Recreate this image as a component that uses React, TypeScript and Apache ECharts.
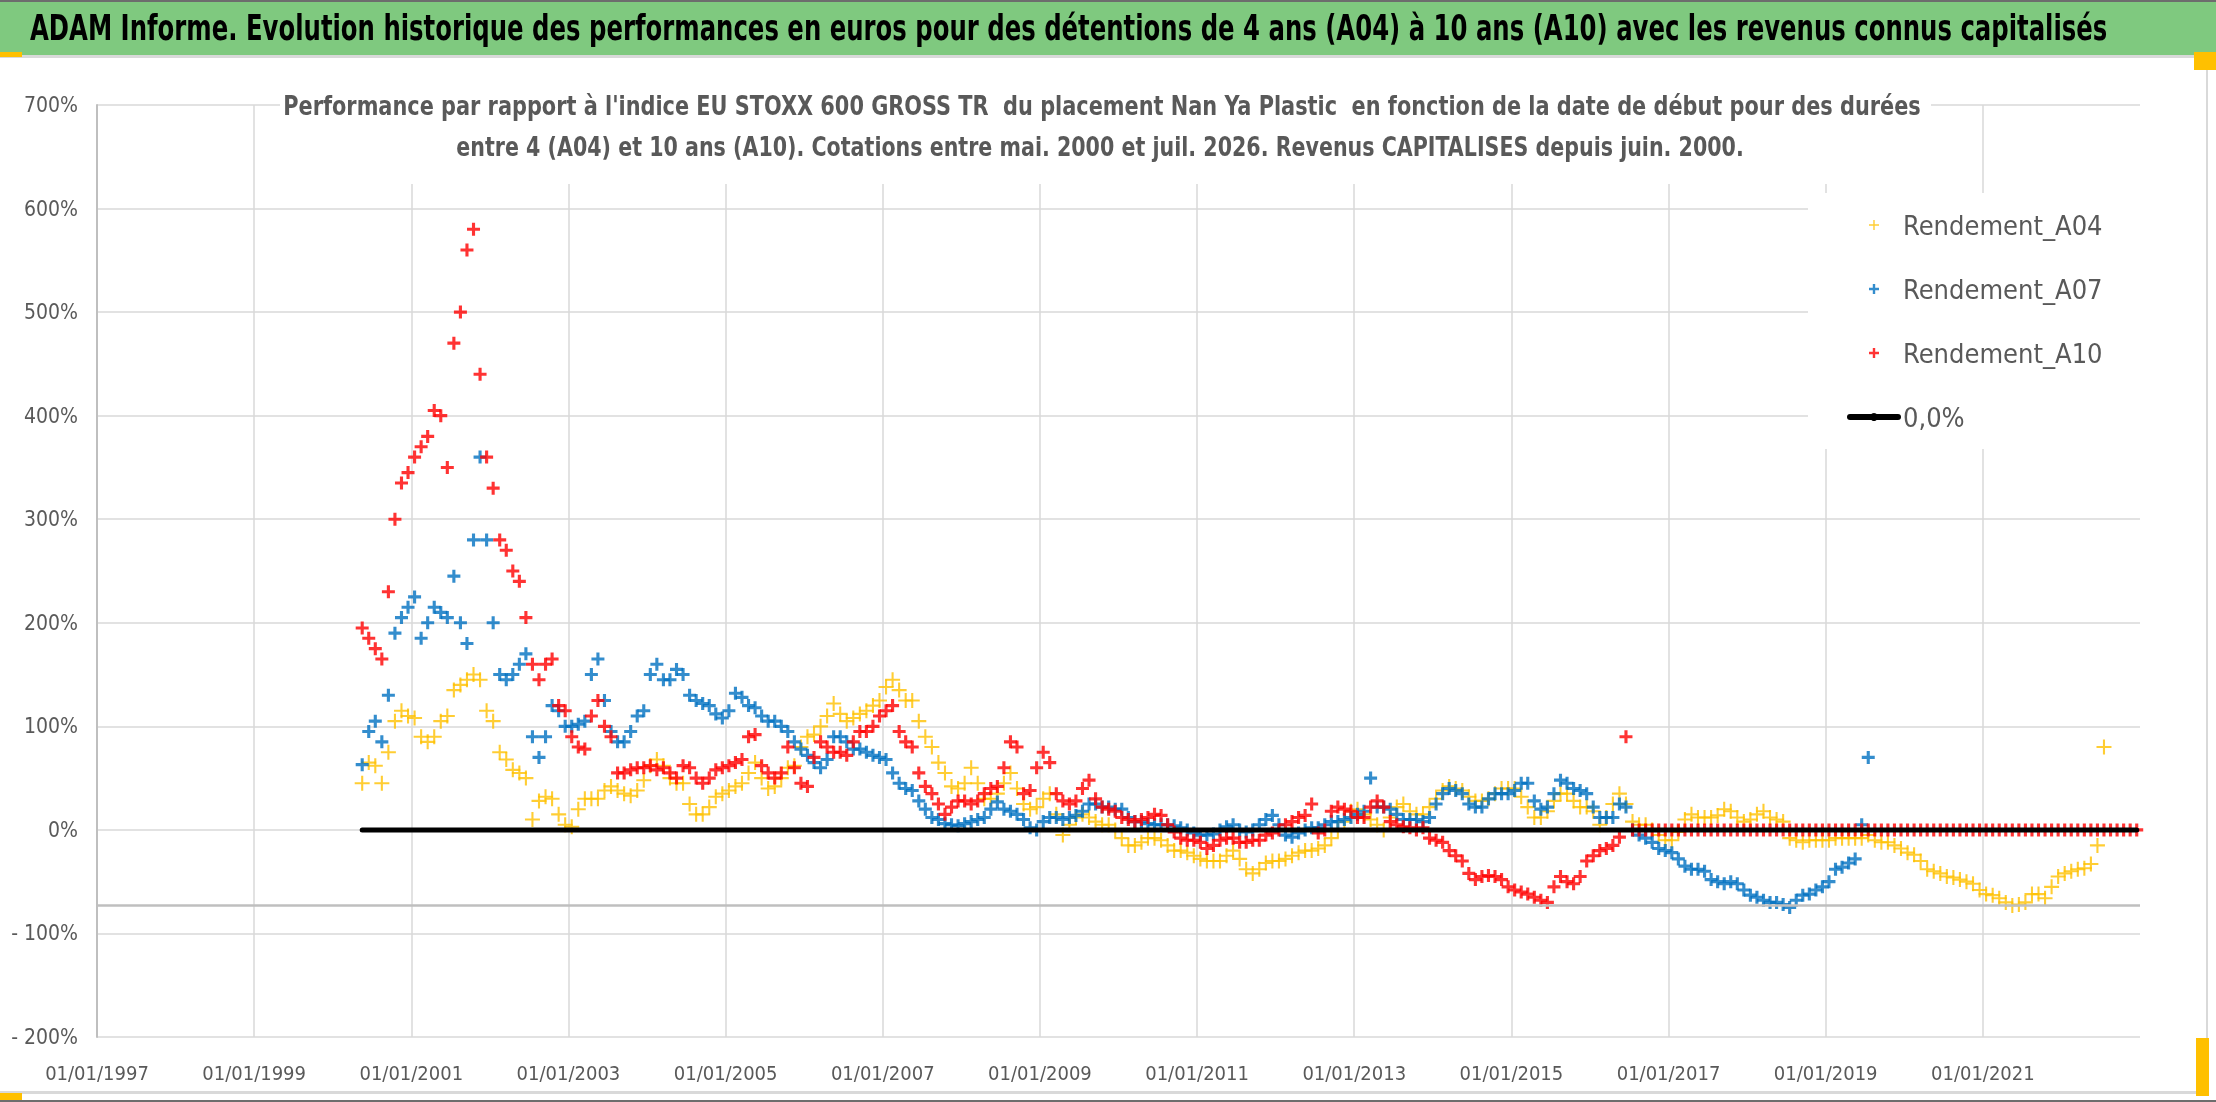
import { useEffect, useRef } from "react";
import * as echarts from "echarts";

// monthly readings, first point = mai 2000
const FIRST_YEAR = 2000;
const FIRST_MONTH = 5;
const X_ORIGIN = 1997; // x axis counted in years since 01/01/1997

const a04 = [
  45, 65, 62, 45, 75, 105, 115, 110, // 2000
  108, 90, 85, 90, 105, 110, 135, 140, 145, 150, 145, 115,
  105, 75, 68, 58, 55, 50, 10, 28, 32, 30, 15, 5,
  3, 20, 30, 30, 30, 38, 42, 38, 35, 33, 38, 48,
  62, 68, 62, 50, 45, 45, 25, 15, 15, 22, 32, 35,
  38, 42, 45, 55, 65, 50, 40, 42, 50, 60, 62, 80, // 2005
  90, 92, 100, 110, 122, 112, 105, 108, 112, 115, 120, 125,
  138, 145, 135, 125, 125, 105, 90, 80, 65, 55, 42, 40,
  45, 60, 45, 30, 30, 35, 45, 55, 40, 25, 20, 22,
  30, 35, 15, -5, 5, 12, 15, 12, 8, 5, 5, 0,
  -8, -15, -15, -12, -8, -8, -10, -15, -20, -20, -22, -25, // 2010
  -28, -30, -30, -30, -25, -20, -28, -38, -42, -38, -32, -30,
  -30, -28, -25, -22, -20, -20, -18, -15, -8, 0, 8, 18,
  20, 15, 10, 5, 0, 12, 22, 25, 18, 15, 15, 22,
  30, 38, 42, 40, 38, 32, 28, 28, 30, 35, 40, 40,
  40, 32, 22, 12, 12, 18, 28, 35, 35, 28, 22, 22, // 2015
  18, 5, 12, 25, 35, 25, 8, 5, 5, 0, -5, -10,
  -10, -2, 10, 15, 12, 12, 12, 14, 20, 18, 12, 8,
  10, 15, 18, 12, 10, 8, -8, -10, -12, -10, -10, -10,
  -10, -8, -8, -8, -8, -8, -5, -10, -12, -12, -15, -18,
  -22, -24, -30, -38, -40, -42, -45, -46, -48, -50, -52, -58, // 2020
  -62, -63, -66, -70, -73, -72, -70, -62, -62, -66, -55, -45,
  -42, -40, -38, -37, -33, -15, 80,
];

const a07 = [
  63, 95, 105, 85, 130, 190, 205, 215, // 2000
  225, 185, 200, 215, 210, 205, 245, 200, 180, 280, 360, 280,
  200, 150, 145, 150, 160, 170, 90, 70, 90, 120, 115, 100,
  100, 102, 105, 150, 165, 125, 95, 85, 85, 95, 110, 115,
  150, 160, 145, 145, 155, 150, 130, 125, 122, 120, 112, 108,
  115, 132, 128, 120, 118, 110, 105, 105, 100, 95, 85, 78, // 2005
  72, 65, 60, 68, 90, 90, 85, 78, 78, 75, 72, 70,
  68, 55, 45, 40, 38, 28, 20, 12, 10, 6, 5, 4,
  6, 8, 10, 12, 20, 27, 20, 18, 15, 10, 2, 0,
  8, 12, 12, 10, 12, 14, 18, 25, 25, 22, 22, 20,
  20, 12, 8, 8, 6, 5, 5, 5, 4, 2, 0, -3, // 2010
  -5, -5, -4, 0, 3, 5, 0, -2, 0, 5, 10, 14,
  5, -5, -7, -3, 0, 2, 2, 5, 8, 8, 10, 12,
  15, 18, 50, 22, 22, 20, 15, 10, 10, 10, 8, 12,
  25, 35, 40, 38, 35, 25, 22, 22, 30, 35, 35, 35,
  38, 45, 45, 28, 20, 22, 35, 48, 45, 40, 38, 35, // 2015
  22, 12, 12, 12, 25, 22, 0, -5, -8, -12, -18, -20,
  -22, -28, -35, -38, -38, -40, -48, -50, -52, -50, -52, -58,
  -63, -65, -68, -70, -70, -72, -75, -68, -63, -62, -58, -55,
  -50, -38, -36, -32, -28, 5, 70,
];

const a10 = [
  195, 185, 175, 165, 230, 300, 335, 345, // 2000
  360, 370, 380, 405, 400, 350, 470, 500, 560, 580, 440, 360,
  330, 280, 270, 250, 240, 205, 160, 145, 160, 165, 120, 115,
  90, 80, 78, 110, 125, 100, 90, 55, 55, 58, 60, 60,
  62, 58, 60, 55, 50, 62, 60, 50, 45, 50, 58, 60,
  62, 65, 68, 90, 92, 62, 55, 50, 55, 80, 60, 45, // 2005
  42, 70, 85, 80, 75, 75, 72, 85, 95, 95, 100, 110,
  115, 120, 95, 85, 80, 55, 42, 35, 25, 15, 22, 28,
  28, 25, 28, 35, 40, 42, 60, 85, 80, 35, 38, 60,
  75, 65, 35, 28, 25, 28, 40, 48, 30, 22, 20, 18,
  12, 10, 8, 10, 12, 15, 14, 5, -2, -8, -10, -10, // 2010
  -12, -18, -15, -10, -8, -8, -12, -12, -10, -10, -5, -3,
  0, 5, 8, 12, 14, 25, -3, 0, 18, 22, 20, 18,
  12, 12, 22, 28, 22, 8, 5, 3, 2, 0, 2, -8,
  -10, -12, -20, -25, -30, -42, -48, -45, -44, -45, -48, -55,
  -58, -60, -62, -65, -68, -70, -55, -45, -50, -52, -45, -30, // 2015
  -25, -20, -18, -15, -7, 90, 0, 0, 0, 0, 0, 0,
  0, 0, 0, 0, 0, 0, 0, 0, 0, 0, 0, 0,
  0, 0, 0, 0, 0, 0, 0, 0, 0, 0, 0, 0,
  0, 0, 0, 0, 0, 0, 0, 0, 0, 0, 0, 0,
  0, 0, 0, 0, 0, 0, 0, 0, 0, 0, 0, 0, // 2020
  0, 0, 0, 0, 0, 0, 0, 0, 0, 0, 0, 0,
  0, 0, 0, 0, 0, 0, 0, 0, 0, 0, 0, 0,
];

const seriesNames = ["Rendement_A04", "Rendement_A07", "Rendement_A10"];
const seriesColors = ["#FFC000", "#0070C0", "#FF0000"];
const zeroName = "0,0%";
const axisCross = -72.5; // where Excel's horizontal axis crosses

const title =
  "ADAM Informe. Evolution historique des performances en euros pour des détentions de 4 ans (A04) à 10 ans (A10) avec les revenus connus capitalisés";
const subtitle = [
  "Performance par rapport à l'indice EU STOXX 600 GROSS TR  du placement Nan Ya Plastic  en fonction de la date de début pour des durées",
  "entre 4 (A04) et 10 ans (A10). Cotations entre mai. 2000 et juil. 2026. Revenus CAPITALISES depuis juin. 2000.",
];

const FONT = '"Liberation Sans Narrow", "Arial Narrow", "DejaVu Sans Condensed", sans-serif';
const GREY = "#595959";
const PLUS_BOLD = "path://M3.8,0H6.2V3.8H10V6.2H6.2V10H3.8V6.2H0V3.8H3.8Z";
const PLUS_THIN = "path://M4.3,0H5.7V4.3H10V5.7H5.7V10H4.3V5.7H0V4.3H4.3Z";

const monthX = (i: number) => FIRST_YEAR - X_ORIGIN + (FIRST_MONTH - 1 + i + 0.5) / 12;

function textWidth(text: string, font: string) {
  const ctx = document.createElement("canvas").getContext("2d")!;
  ctx.font = font;
  return ctx.measureText(text).width;
}

function fittedText(text: string, x: number, y: number, width: number, size: number, color: string, align: string) {
  const scaleX = width / textWidth(text, `bold ${size}px ${FONT}`);
  return {
    type: "text",
    x,
    y,
    scaleX,
    z: 10,
    style: {
      text,
      fontFamily: FONT,
      fontSize: size,
      fontWeight: "bold",
      fill: color,
      align,
      textAlign: align,
      verticalAlign: "middle",
      textVerticalAlign: "middle",
    },
  };
}

export default function App() {
  const ref = useRef<HTMLDivElement | null>(null);

  useEffect(() => {
    if (!ref.current) return;
    const chart = echarts.init(ref.current, undefined, { renderer: "svg" });

    const perf = [a04, a07, a10];
    const scatter = perf.map((vals, k) => ({
      name: seriesNames[k],
      type: "scatter",
      symbol: k === 0 ? PLUS_THIN : PLUS_BOLD,
      symbolSize: k === 0 ? 15 : 13,
      itemStyle: { color: seriesColors[k] },
      data: vals.map((v, i) => [monthX(i), v]),
    }));

    const rect = (x: number, y: number, width: number, height: number, fill: string, z = 0) => ({
      type: "rect",
      z,
      shape: { x, y, width, height },
      style: { fill },
    });

    chart.setOption({
      animation: false,
      grid: { left: 97, right: 76, top: 105, bottom: 65 },
      xAxis: {
        type: "value",
        min: 0,
        max: 26,
        interval: 2,
        axisLine: { show: false },
        axisTick: { show: false },
        splitLine: { show: true, showMaxLine: false, lineStyle: { color: "#d9d9d9", width: 1.5 } },
        axisLabel: {
          showMaxLabel: false,
          margin: 26,
          color: GREY,
          fontFamily: FONT,
          fontSize: 20,
          formatter: (v: number) => (v > 24 ? "" : `01/01/${X_ORIGIN + v}`),
        },
      },
      yAxis: {
        type: "value",
        min: -200,
        max: 700,
        interval: 100,
        axisLine: { show: true, lineStyle: { color: "#bfbfbf", width: 2 } },
        axisTick: { show: false },
        splitLine: { show: true, lineStyle: { color: "#d9d9d9", width: 1.5 } },
        axisLabel: {
          margin: 19,
          color: GREY,
          fontFamily: FONT,
          fontSize: 21,
          formatter: (v: number) => (v < 0 ? `- ${-v}%` : `${v}%`),
        },
      },
      legend: {
        orient: "vertical",
        left: 1808,
        top: 193,
        padding: [0, 40, 0, 39],
        itemGap: 0,
        itemWidth: 48,
        itemHeight: 10,
        backgroundColor: "#ffffff",
        textStyle: { fontFamily: FONT, fontSize: 27, color: GREY, lineHeight: 64 },
        data: [
          ...seriesNames,
          { name: zeroName, itemStyle: { color: "#000000" }, lineStyle: { width: 6, color: "#000000" } },
        ],
      },
      graphic: [
        rect(0, 0, 2216, 55, "#7fc97f"),
        rect(0, 0, 2216, 2, "#6d6d6d"),
        rect(0, 55, 2216, 3, "#d9d9d9"),
        rect(0, 1091, 2207, 3, "#d9d9d9"),
        rect(0, 1100, 2216, 2, "#6d6d6d"),
        rect(2206, 57, 2, 1036, "#d9d9d9"),
        rect(0, 52, 22, 5, "#ffc000"),
        rect(2194, 52, 22, 18, "#ffc000"),
        rect(0, 1093, 22, 7, "#ffc000"),
        rect(2196, 1038, 13, 58, "#ffc000"),
        rect(280, 84, 1651, 100, "#ffffff", 1),
        fittedText(title, 30, 28, 2078, 36, "#000000", "left"),
        fittedText(subtitle[0], 1102, 106, 1638, 26, GREY, "center"),
        fittedText(subtitle[1], 1100, 147, 1288, 26, GREY, "center"),
      ],
      series: [
        {
          name: zeroName,
          type: "line",
          symbol: "none",
          itemStyle: { color: "#000000" },
          lineStyle: { color: "#000000", width: 5, cap: "round" },
          data: [
            [monthX(0), 0],
            [monthX(a10.length - 1), 0],
          ],
          markLine: {
            silent: true,
            symbol: "none",
            label: { show: false },
            lineStyle: { color: "#bfbfbf", width: 2.5, type: "solid" },
            data: [{ yAxis: axisCross }],
          },
        },
        ...scatter,
      ],
    });

    return () => chart.dispose();
  }, []);

  return <div ref={ref} style={{ position: "fixed", left: 0, top: 0, width: 2216, height: 1102 }} />;
}
